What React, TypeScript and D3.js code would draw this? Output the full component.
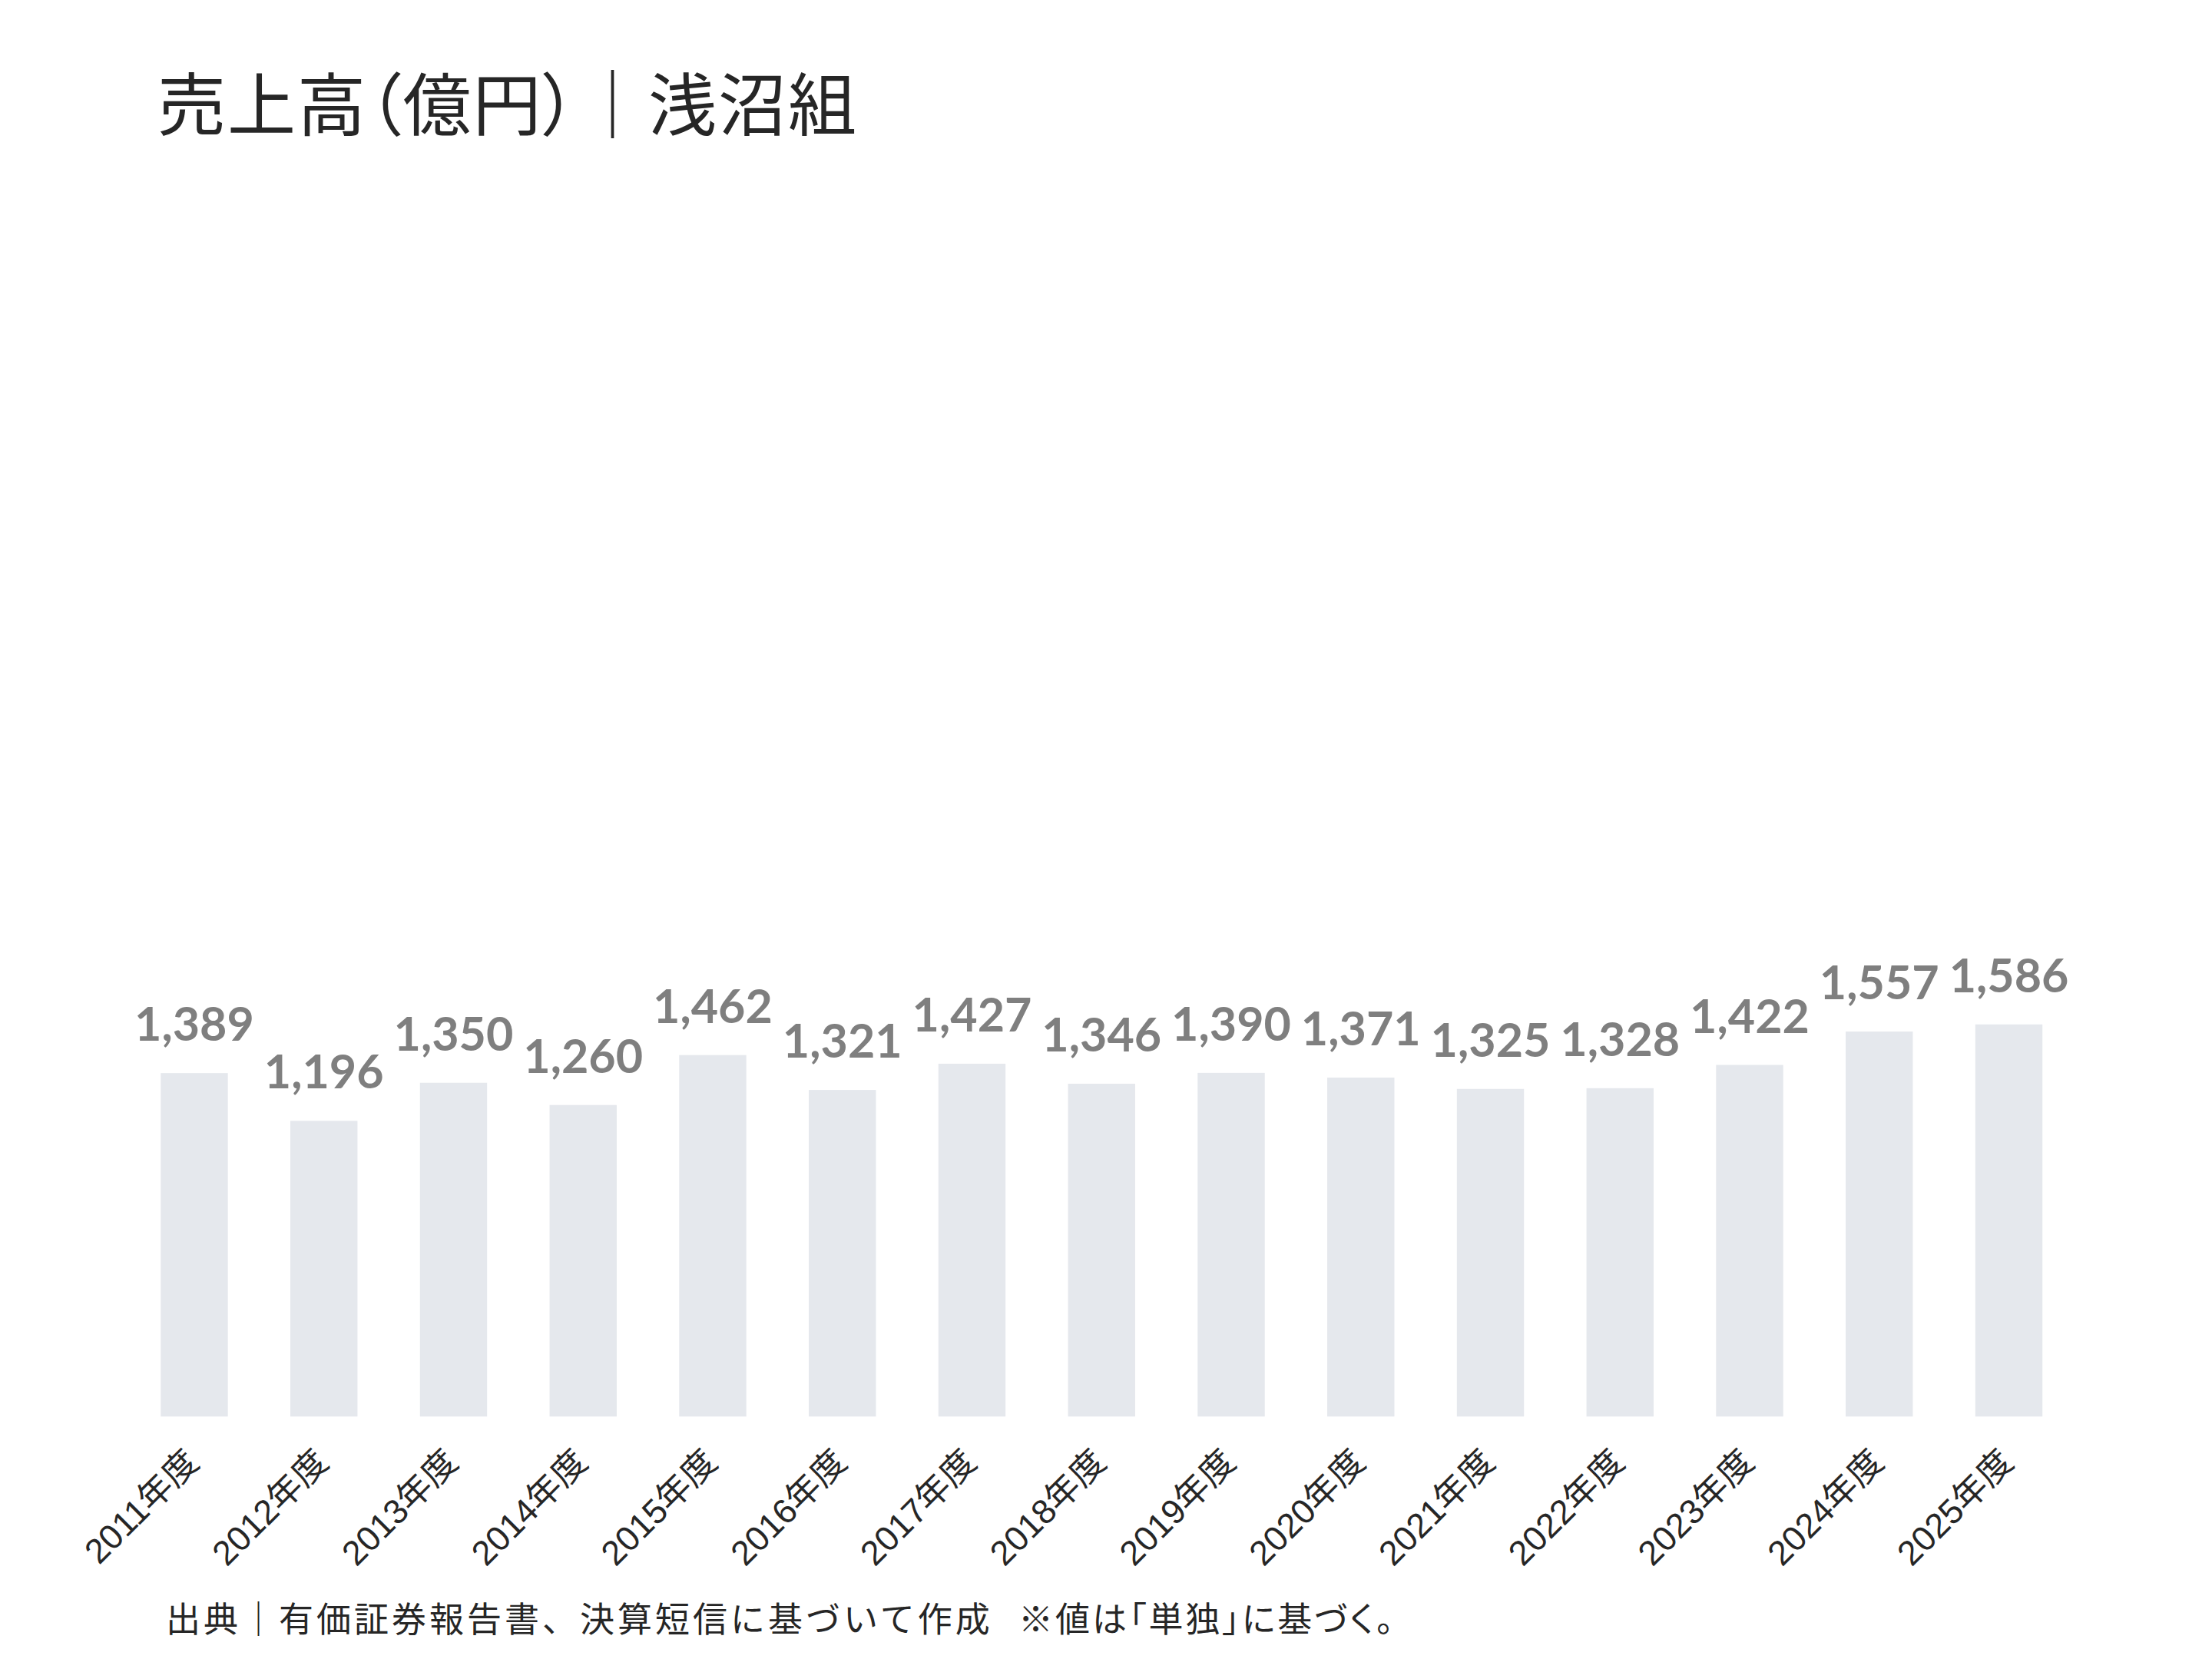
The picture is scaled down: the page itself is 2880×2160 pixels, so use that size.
import React from "react";
import * as d3 from "d3";

const years = ["2011年度","2012年度","2013年度","2014年度","2015年度","2016年度","2017年度","2018年度","2019年度","2020年度","2021年度","2022年度","2023年度","2024年度","2025年度"];
const sales = [1389,1196,1350,1260,1462,1321,1427,1346,1390,1371,1325,1328,1422,1557,1586];
const titleText = "売上高（億円）｜浅沼組";
const footerSource = "出典｜有価証券報告書、決算短信に基づいて作成";
const footerNote = "※値は「単独」に基づく。";

const W = 2880;
const H = 2160;
const plotLeft = 168.6;
const plotRight = 2699.9;
const plotBottom = 1844.3;
const plotTop = 234.8;

export default function App() {
  const x = d3.scaleBand<string>().domain(years).range([plotLeft, plotRight]).paddingInner(0.482).paddingOuter(0.241);
  const y = d3.scaleLinear().domain([0, 5000]).range([plotBottom, plotTop]);
  const fmt = d3.format(",");
  const cjk = '"Noto Sans CJK JP", "Noto Sans CJK SC", sans-serif';
  return (
    <svg width={W} height={H} viewBox={`0 0 ${W} ${H}`} style={{ position: "absolute", left: 0, top: 0, display: "block", background: "#fff" }}>
      <rect x={0} y={0} width={W} height={H} fill="#ffffff" />
      <text x={205} y={169} fontFamily={cjk} fontSize={89} letterSpacing={2} fill="#262626" style={{ fontFeatureSettings: '"palt"' }}>{titleText}</text>
      <g>
        {years.map((yr, i) => (
          <rect key={yr} x={x(yr)} y={y(sales[i])} width={x.bandwidth()} height={y(0) - y(sales[i])} fill="#e5e8ed" />
        ))}
      </g>
      <g>
        {years.map((yr, i) => (
          <text key={yr} x={(x(yr) as number) + x.bandwidth() / 2} y={y(sales[i]) - 42} textAnchor="middle" fontFamily="Lato, 'Open Sans', sans-serif" fontWeight={700} fontSize={61} fill="#7f7f7f">{fmt(sales[i])}</text>
        ))}
      </g>
      <g>
        {years.map((yr) => {
          const cx = (x(yr) as number) + x.bandwidth() / 2;
          return (
            <text key={yr} transform={`translate(${cx + 8},${plotBottom + 62}) rotate(-45)`} textAnchor="end" fontFamily={'"Liberation Sans", Arial, "Noto Sans CJK JP", sans-serif'} fontSize={45} fill="#262626">{yr}</text>
          );
        })}
      </g>
      <text y={2125} fontFamily={cjk} fontSize={45} fill="#262626">
        <tspan x={216} letterSpacing={4}>{footerSource}</tspan>
        <tspan x={1326} letterSpacing={3} style={{ fontFeatureSettings: '"palt"' }}>{footerNote}</tspan>
      </text>
    </svg>
  );
}
